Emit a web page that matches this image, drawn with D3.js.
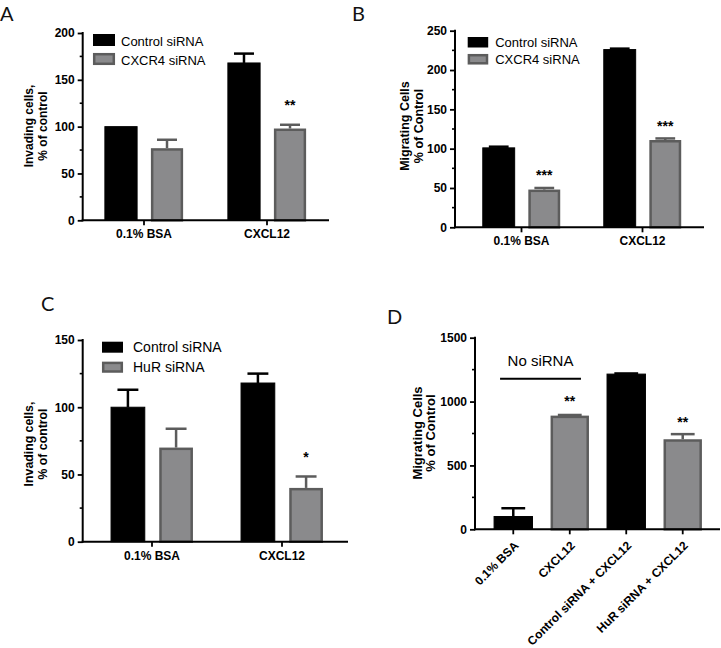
<!DOCTYPE html>
<html>
<head>
<meta charset="utf-8">
<script src="https://cdn.jsdelivr.net/npm/d3@7"></script>
<style>
  html, body { margin: 0; padding: 0; background: #fff; }
  svg { display: block; font-family: Arial, "Liberation Sans", sans-serif; }
</style>
</head>
<body>
<svg id="chart" width="721" height="648"></svg>
<script>
// ---------------- DATA ----------------
// Panel A
const catsA = ["0.1% BSA", "CXCL12"];
const seriesA = ["Control siRNA", "CXCR4 siRNA"];
const valsA_control = [100, 168];
const errA_control = [0, 10];
const valsA_cxcr4 = [77, 98];
const errA_cxcr4 = [9, 4];
const sigA_cxcr4 = ["", "**"];
const sigYA_cxcr4 = [null, 126];
const ticksA = [0, 50, 100, 150, 200];

// Panel B
const catsB = ["0.1% BSA", "CXCL12"];
const seriesB = ["Control siRNA", "CXCR4 siRNA"];
const valsB_control = [101, 226];
const errB_control = [1.5, 1.2];
const valsB_cxcr4 = [48, 111];
const errB_cxcr4 = [2, 2];
const sigB_cxcr4 = ["***", "***"];
const sigYB_cxcr4 = [70, 132];
const ticksB = [0, 50, 100, 150, 200, 250];

// Panel C
const catsC = ["0.1% BSA", "CXCL12"];
const seriesC = ["Control siRNA", "HuR siRNA"];
const valsC_control = [100, 118];
const errC_control = [13, 7];
const valsC_hur = [70, 40];
const errC_hur = [14, 8.5];
const sigC_hur = ["", "*"];
const sigYC_hur = [null, 65];
const ticksC = [0, 50, 100, 150];

// Panel D
const catsD = ["0.1% BSA", "CXCL12", "Control siRNA + CXCL12", "HuR siRNA + CXCL12"];
const valsD = [100, 890, 1215, 705];
const errD = [65, 5, 5, 40];
const fillD = ["black", "gray", "black", "gray"];
const sigD = ["", "**", "", "**"];
const sigYD = [null, 1025, null, 860];
const ticksD = [0, 500, 1000, 1500];
const bracketD = { label: "No siRNA", from: 0, to: 1 };

// ---------------- STYLE ----------------
const GRAY_FILL = "#8a8a8c";
const GRAY_STROKE = "#5c5c5c";
const svg = d3.select("#chart");

function barStyle(sel, kind) {
  if (kind === "black") sel.attr("fill", "#000").attr("stroke", "#000").attr("stroke-width", 1);
  else sel.attr("fill", GRAY_FILL).attr("stroke", GRAY_STROKE).attr("stroke-width", 2.5);
}

function drawAxes(g, o) {
  const yAxis = d3.axisLeft(o.y).tickValues(o.ticks).tickSize(5).tickPadding(3).tickFormat(d3.format("d"));
  const ga = g.append("g").attr("transform", `translate(${o.x0},0)`).call(yAxis);
  ga.select(".domain").remove();
  ga.selectAll(".tick line").attr("stroke", "#000").attr("stroke-width", 1.8);
  ga.selectAll(".tick text").attr("font-size", 12).attr("font-weight", "bold").attr("fill", "#000")
    .attr("font-family", "Arial, 'Liberation Sans', sans-serif");
  const minors = [];
  for (let i = 0; i < o.ticks.length - 1; i++) minors.push((o.ticks[i] + o.ticks[i + 1]) / 2);
  g.selectAll(null).data(minors).enter().append("line")
    .attr("x1", o.x0 - 3).attr("x2", o.x0)
    .attr("y1", d => o.y(d)).attr("y2", d => o.y(d))
    .attr("stroke", "#000").attr("stroke-width", 1.6);
  g.append("line").attr("x1", o.x0).attr("x2", o.x0)
    .attr("y1", o.y(0) + 1).attr("y2", o.y(o.ticks[o.ticks.length - 1]) - 1)
    .attr("stroke", "#000").attr("stroke-width", 2);
  g.append("line").attr("x1", o.x0 - 1).attr("x2", o.x1)
    .attr("y1", o.y(0)).attr("y2", o.y(0))
    .attr("stroke", "#000").attr("stroke-width", 2);
  g.selectAll(null).data(o.cats).enter().append("line")
    .attr("x1", d => o.xc(d)).attr("x2", d => o.xc(d))
    .attr("y1", o.y(0)).attr("y2", o.y(0) + 5)
    .attr("stroke", "#000").attr("stroke-width", 1.8);
}

function yTitle(g, lines, x1, x2, cy, fs) {
  const xs = [x1, x2];
  lines.forEach((t, i) => {
    g.append("text")
      .attr("transform", `translate(${xs[i]},${cy}) rotate(-90)`)
      .attr("text-anchor", "middle")
      .attr("font-size", fs).attr("font-weight", "bold").attr("fill", "#000")
      .text(t);
  });
}

function panelLabel(txt, x, y) {
  svg.append("text").attr("x", x).attr("y", y)
    .attr("font-family", "Lato, 'Open Sans', sans-serif")
    .attr("font-size", 20).attr("fill", "#111").text(txt);
}

function legend(g, series, x, y1, y2, sw, sh, fs, gap) {
  const ys = [y1, y2];
  series.forEach((s, i) => {
    const r = g.append("rect").attr("x", x + (i ? 1.2 : 0)).attr("y", ys[i] + (i ? 1.2 : 0))
      .attr("width", sw - (i ? 2.4 : 0)).attr("height", sh - (i ? 2.4 : 0));
    barStyle(r, i === 0 ? "black" : "gray");
    if (i === 0) r.attr("stroke-width", 0);
    g.append("text").attr("x", x + sw + gap).attr("y", ys[i] + sh - 0.5)
      .attr("font-size", fs).attr("fill", "#000").text(s);
  });
}

function sigText(g, x, y, txt) {
  g.append("text").attr("x", x).attr("y", y + 8)
    .attr("text-anchor", "middle").attr("font-size", 14).attr("font-weight", "bold")
    .attr("fill", "#000").text(txt);
}

function errorBar(g, cx, yv, ye, cw, col) {
  g.append("line").attr("x1", cx).attr("x2", cx)
    .attr("y1", yv).attr("y2", ye).attr("stroke", col).attr("stroke-width", 2.5);
  g.append("line").attr("x1", cx - cw / 2).attr("x2", cx + cw / 2)
    .attr("y1", ye).attr("y2", ye).attr("stroke", col).attr("stroke-width", 2.5);
}

function groupedPanel(o) {
  const g = svg.append("g");
  const y = d3.scaleLinear().domain([0, o.ticks[o.ticks.length - 1]]).range([o.yBottom, o.yTop]);
  const xg = d3.scaleBand().domain(o.cats).range(o.xRange).paddingInner(o.padG).paddingOuter(o.padG / 2);
  const xs = d3.scaleBand().domain([0, 1]).range([0, xg.bandwidth()]).paddingInner(o.padS).paddingOuter(0);
  const xc = d => xg(d) + xg.bandwidth() / 2;

  const seriesData = [
    { kind: "black", vals: o.v0, errs: o.e0, sig: o.s0 || [], sigY: o.sy0 || [] },
    { kind: "gray", vals: o.v1, errs: o.e1, sig: o.s1 || [], sigY: o.sy1 || [] }
  ];
  seriesData.forEach((sd, si) => {
    o.cats.forEach((c, ci) => {
      const bx = xg(c) + xs(si), bw = xs.bandwidth();
      const v = sd.vals[ci], e = sd.errs[ci];
      const col = sd.kind === "black" ? "#000" : GRAY_STROKE;
      if (e > 0) errorBar(g, bx + bw / 2, y(v), y(v + e), bw * 0.62, col);
      const inset = sd.kind === "gray" ? 1.25 : 0;
      const r = g.append("rect").attr("x", bx + inset).attr("width", bw - 2 * inset)
        .attr("y", y(v) + inset).attr("height", y(0) - y(v) - inset);
      barStyle(r, sd.kind);
      if (sd.sig[ci]) sigText(g, bx + bw / 2, y(sd.sigY[ci]), sd.sig[ci]);
    });
  });
  drawAxes(g, { x0: o.x0, x1: o.x1, y, ticks: o.ticks, cats: o.cats, xc });
  g.selectAll(null).data(o.cats).enter().append("text")
    .attr("x", d => xc(d)).attr("y", y(0) + 18)
    .attr("text-anchor", "middle").attr("font-size", 12).attr("font-weight", "bold").attr("fill", "#000")
    .text(d => d);
  yTitle(g, o.title, o.tx1, o.tx2, o.tcy, o.tfs);
  legend(g, o.series, o.lx, o.ly1, o.ly2, o.lsw, o.lsh, o.lfs, o.lgap);
}

// ---- Panel A
panelLabel("A", 0, 21);
groupedPanel({
  cats: catsA, series: seriesA, ticks: ticksA,
  v0: valsA_control, e0: errA_control, v1: valsA_cxcr4, e1: errA_cxcr4, s1: sigA_cxcr4, sy1: sigYA_cxcr4,
  x0: 82.7, x1: 329, xRange: [82.5, 328.5], padG: 0.364, padS: 0.30,
  yTop: 33, yBottom: 220.3,
  title: ["Invading cells,", "% of control"], tx1: 33, tx2: 46.5, tcy: 126, tfs: 12,
  lx: 93, ly1: 34, ly2: 53, lsw: 22, lsh: 12, lfs: 13, lgap: 6
});

// ---- Panel B
panelLabel("B", 352, 21);
groupedPanel({
  cats: catsB, series: seriesB, ticks: ticksB,
  v0: valsB_control, e0: errB_control, v1: valsB_cxcr4, e1: errB_cxcr4, s0: ["", ""], s1: sigB_cxcr4, sy1: sigYB_cxcr4,
  x0: 455, x1: 704, xRange: [461, 703], padG: 0.36, padS: 0.30,
  yTop: 30.7, yBottom: 227.3,
  title: ["Migrating Cells", "% of Control"], tx1: 409, tx2: 422.5, tcy: 126, tfs: 12.5,
  lx: 467.7, ly1: 37, ly2: 54, lsw: 20.5, lsh: 10.5, lfs: 13, lgap: 7
});

// ---- Panel C
panelLabel("C", 41, 311);
groupedPanel({
  cats: catsC, series: seriesC, ticks: ticksC,
  v0: valsC_control, e0: errC_control, v1: valsC_hur, e1: errC_hur, s1: sigC_hur, sy1: sigYC_hur,
  x0: 82.7, x1: 348, xRange: [87, 347], padG: 0.37, padS: 0.30,
  yTop: 340, yBottom: 541.7,
  title: ["Invading cells,", "% of control"], tx1: 33, tx2: 47, tcy: 444, tfs: 12.3,
  lx: 102, ly1: 341.7, ly2: 361.7, lsw: 21, lsh: 11, lfs: 14, lgap: 10
});

// ---- Panel D
panelLabel("D", 387, 324);
(function () {
  const g = svg.append("g");
  const x0 = 475, x1 = 720;
  const y = d3.scaleLinear().domain([0, 1500]).range([529.3, 337.7]);
  const x = d3.scaleBand().domain(catsD).range([476, 720]).padding(0.32);
  const xc = d => x(d) + x.bandwidth() / 2;
  catsD.forEach((c, i) => {
    const bx = x(c), bw = x.bandwidth(), v = valsD[i], e = errD[i];
    const col = fillD[i] === "black" ? "#000" : GRAY_STROKE;
    if (e > 0) errorBar(g, bx + bw / 2, y(v), y(v + e), bw * 0.62, col);
    const inset = fillD[i] === "gray" ? 1.25 : 0;
    const r = g.append("rect").attr("x", bx + inset).attr("width", bw - 2 * inset)
      .attr("y", y(v) + inset).attr("height", y(0) - y(v) - inset);
    barStyle(r, fillD[i]);
    if (sigD[i]) sigText(g, bx + bw / 2, y(sigYD[i]), sigD[i]);
  });
  drawAxes(g, { x0, x1, y, ticks: ticksD, cats: catsD, xc });
  g.selectAll(null).data(catsD).enter().append("text")
    .attr("transform", d => `translate(${xc(d) + 6},${y(0) + 17}) rotate(-45)`)
    .attr("text-anchor", "end")
    .attr("font-size", 12).attr("font-weight", "bold").attr("fill", "#000")
    .text(d => d);
  const bxL = x(catsD[bracketD.from]) + 6;
  const bxR = x(catsD[bracketD.to]) + x.bandwidth() - 8;
  g.append("line").attr("x1", bxL).attr("x2", bxR).attr("y1", 378.7).attr("y2", 378.7)
    .attr("stroke", "#000").attr("stroke-width", 2);
  g.append("text").attr("x", (bxL + bxR) / 2).attr("y", 366)
    .attr("text-anchor", "middle").attr("font-size", 15).attr("fill", "#000").text(bracketD.label);
  yTitle(g, ["Migrating Cells", "% of Control"], 422, 434.5, 433, 13);
})();
</script>
</body>
</html>
